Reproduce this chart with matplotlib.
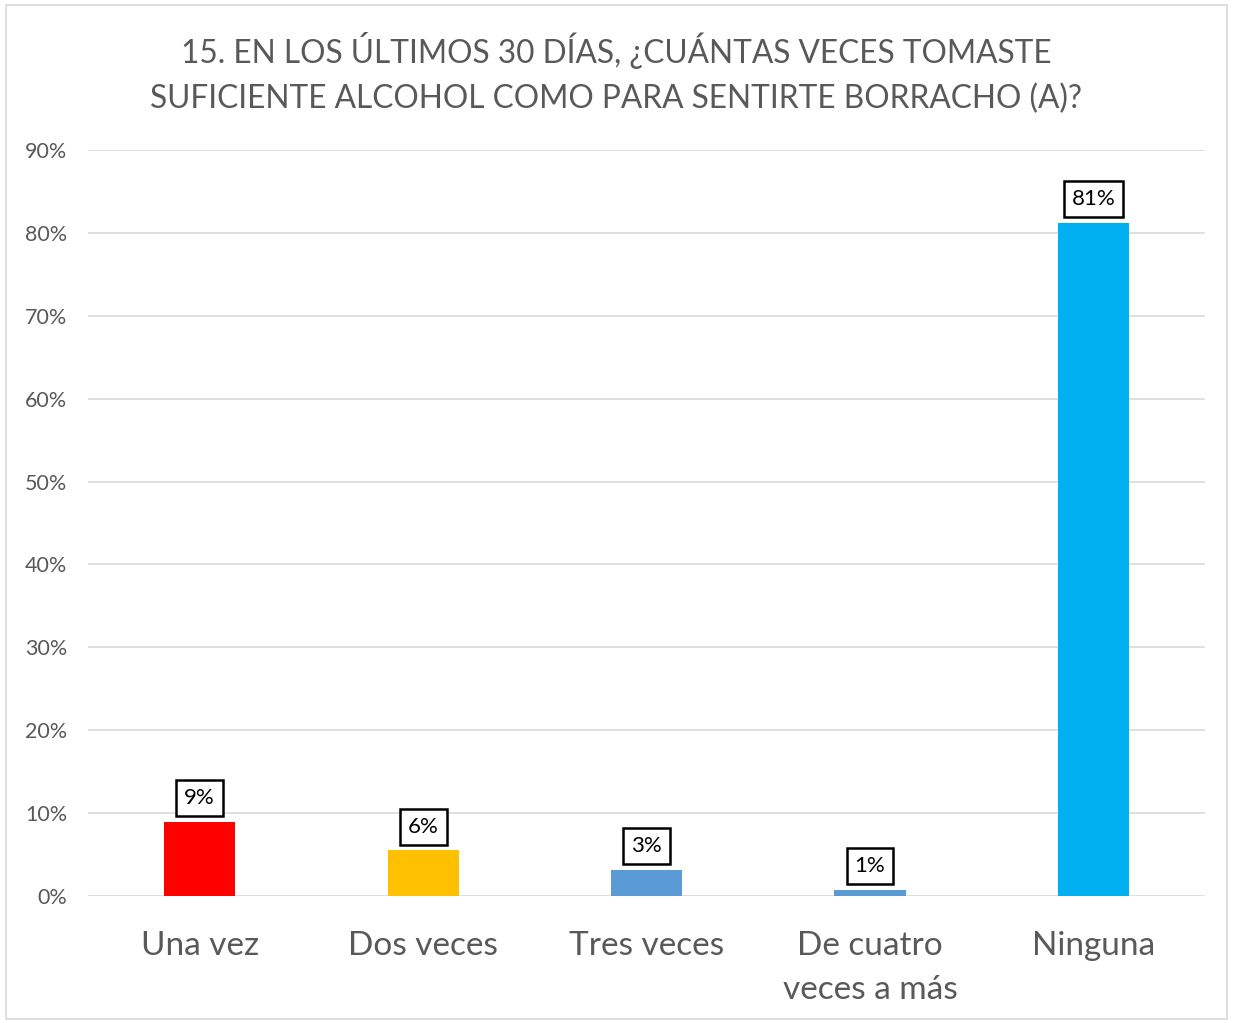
import matplotlib
matplotlib.use("Agg")
import matplotlib.pyplot as plt
from matplotlib.patches import Rectangle

plt.rcParams['font.family'] = ['Lato', 'DejaVu Sans']

categories = ["Una vez", "Dos veces", "Tres veces", "De cuatro\nveces a más", "Ninguna"]
values = [0.089, 0.055, 0.031, 0.007, 0.812]
labels = ["9%", "6%", "3%", "1%", "81%"]
colors = ["#FF0000", "#FFC000", "#5B9BD5", "#5B9BD5", "#00B0F0"]
yticks = [0, 0.1, 0.2, 0.3, 0.4, 0.5, 0.6, 0.7, 0.8, 0.9]
ytick_labels = ["0%", "10%", "20%", "30%", "40%", "50%", "60%", "70%", "80%", "90%"]
title = "15. EN LOS ÚLTIMOS 30 DÍAS, ¿CUÁNTAS VECES TOMASTE\nSUFICIENTE ALCOHOL COMO PARA SENTIRTE BORRACHO (A)?"

fig = plt.figure(figsize=(12.33, 10.23), dpi=100)
fig.patches.append(Rectangle((0.005, 0.004), 0.99, 0.991, transform=fig.transFigure,
                             fill=False, edgecolor="#D9D9D9", linewidth=1.2))
ax = fig.add_axes([0.0714, 0.1241, 0.906, 0.7293])

x = list(range(len(categories)))
ax.bar(x, values, width=0.318, color=colors, zorder=3)
ax.set_xlim(-0.5, 4.5)
ax.set_ylim(0, 0.9)
ax.set_yticks(yticks)
ax.set_yticklabels(ytick_labels)
ax.yaxis.grid(True, color="#D9D9D9", linewidth=1.2, zorder=0)
ax.set_axisbelow(True)
for s in ax.spines.values():
    s.set_visible(False)
ax.tick_params(axis='y', length=0, labelsize=15.5, labelcolor="#595959", pad=15)
ax.set_xticks(x)
ax.set_xticklabels(categories, fontsize=24, color="#595959", linespacing=1.6)
ax.tick_params(axis='x', length=0, pad=25)

for xi, v, lab in zip(x, values, labels):
    ax.annotate(lab, (xi, v), xytext=(0, 10), textcoords="offset points",
                ha="center", va="bottom", fontsize=16, color="#000000",
                bbox=dict(boxstyle="square,pad=0.36", facecolor="white",
                          edgecolor="black", linewidth=1.8), zorder=5)

fig.text(0.5, 0.9286, title, ha="center", va="center", fontsize=22.8,
         color="#595959", linespacing=1.62)

fig.savefig("out.png", dpi=100, facecolor="white")
